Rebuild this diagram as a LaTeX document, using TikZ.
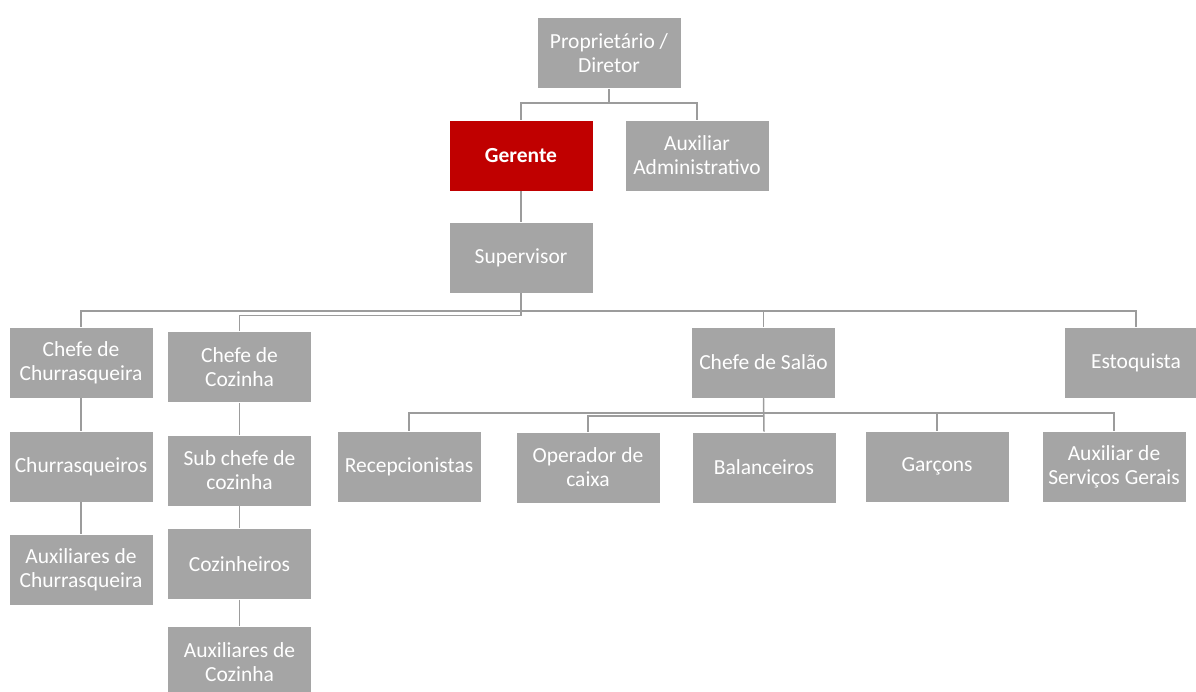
\documentclass[tikz,border=0pt]{standalone}
\usepackage{fontspec}
\setmainfont{Carlito}
\begin{document}
\begin{tikzpicture}[x=1pt,y=-1pt,
  box/.style={fill=boxgrey, draw=white, line width=0.6pt, minimum width=144pt, minimum height=71pt,
    inner sep=2pt, text=white, align=center, font=\fontsize{21.5}{24}\selectfont},
  lead/.style={box, fill=leadred, font=\fontsize{21.5}{24}\selectfont\bfseries},
  link/.style={draw=linegrey, line width=1.5pt}]
\definecolor{boxgrey}{HTML}{A5A5A5}
\definecolor{leadred}{HTML}{C00000}
\definecolor{linegrey}{HTML}{9C9C9C}
\useasboundingbox (0,0) rectangle (1196,691);

% bus levels
\coordinate (b1) at (0,103);
\coordinate (b2) at (0,311);
\coordinate (b3) at (0,315.5);
\coordinate (b4) at (0,413);
\coordinate (b5) at (0,416);

% top management
\node[box]  (prop) at (609,53)    {Proprietário /\\Diretor};
\node[lead] (ger)  at (521,155.5) {Gerente};
\node[box]  (aux)  at (697,155.5) {Auxiliar\\Administrativo};
\node[box]  (sup)  at (521,257.5) {Supervisor};

% department heads
\node[box] (cchu) at (81,362.5)    {Chefe de\\Churrasqueira};
\node[box] (ccoz) at (239.5,367)   {Chefe de\\Cozinha};
\node[box] (csal) at (763.5,362.5) {Chefe de Salão};
\node[box] (est)  at (1136,362.5)  {Estoquista};

% grill
\node[box] (churr)  at (81,466.5) {Churrasqueiros};
\node[box] (auxchu) at (81,570)   {Auxiliares de\\Churrasqueira};

% kitchen
\node[box] (sub)    at (239.5,470.5) {Sub chefe de\\cozinha};
\node[box] (coz)    at (239.5,564)   {Cozinheiros};
\node[box] (auxcoz) at (239.5,662)   {Auxiliares de\\Cozinha};

% dining room
\node[box] (rec)   at (409,466.5)  {Recepcionistas};
\node[box] (op)    at (588,467.5)  {Operador de\\caixa};
\node[box] (bal)   at (764,467.5)  {Balanceiros};
\node[box] (gar)   at (937,466.5)  {Garçons};
\node[box] (auxsg) at (1114,466.5) {Auxiliar de\\Serviços Gerais};

% connectors
\draw[link] (prop.south) -- (prop.south |- b1) -| (ger.north);
\draw[link] (prop.south |- b1) -| (aux.north);
\draw[link] (ger) -- (sup);

\draw[link] (sup.south) -- (sup.south |- b2) -| (cchu.north);
\draw[link] (sup.south |- b2) -| (csal.north);
\draw[link] (sup.south |- b2) -| (est.north);
\draw[link] (sup.south) -- (sup.south |- b3) -| (ccoz.north);

\draw[link] (cchu) -- (churr);
\draw[link] (churr) -- (auxchu);
\draw[link] (ccoz) -- (sub);
\draw[link] (sub) -- (coz);
\draw[link] (coz) -- (auxcoz);

\draw[link] (csal.south) -- (csal.south |- b4) -| (rec.north);
\draw[link] (csal.south |- b4) -| (gar.north);
\draw[link] (csal.south |- b4) -| (auxsg.north);
\draw[link] (csal.south) -- (bal.north);
\draw[link] (csal.south) -- (csal.south |- b5) -| (op.north);
\end{tikzpicture}
\end{document}
